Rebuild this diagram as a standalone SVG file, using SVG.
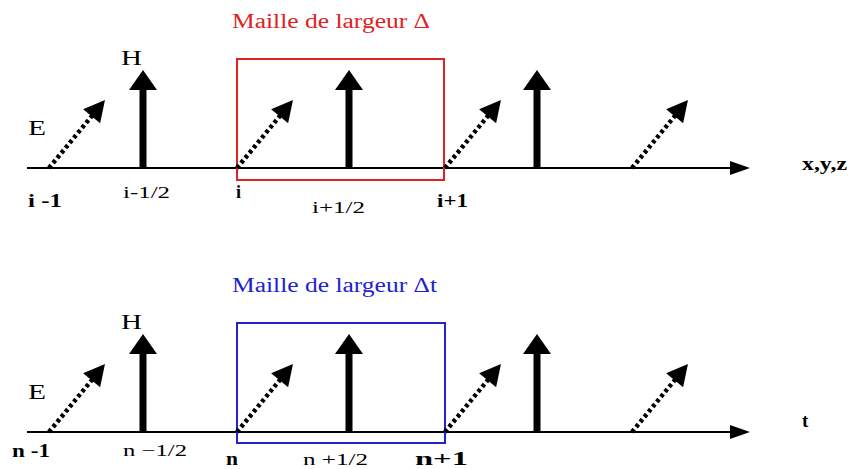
<svg xmlns="http://www.w3.org/2000/svg" xmlns:xlink="http://www.w3.org/1999/xlink" width="855" height="469" viewBox="0 0 855 469">
<style>
text{font-family:'Liberation Serif','Times New Roman',Times,serif;fill:#000;font-size:17px}
.b{font-weight:bold;font-size:18px}
.t{font-size:20px}
.axis{stroke:#000;stroke-width:2;fill:none}
.cell{fill:none;stroke-width:2}
</style>
<defs>
<g id="harrow">
<rect x="-3.5" y="18" width="7" height="80" fill="#000"/>
<polygon points="0,0 -14,20 14,20" fill="#000"/>
</g>
<g id="earrow">
<line x1="0" y1="0" x2="69" y2="0" stroke="#000" stroke-width="4.5" stroke-dasharray="3.5 3"/>
<polygon points="88,0 67,-11 67,11" fill="#000"/>
</g>
</defs>
<rect width="855" height="469" fill="#fff"/>
<g id="connectors">
<line class="axis" x1="27" y1="168" x2="735" y2="168"/>
<polygon points="750,168 730,161 730,175" fill="#000"/>
<line class="axis" x1="27" y1="432" x2="735" y2="432"/>
<polygon points="750,432 730,425 730,439" fill="#000"/>
</g>
<g id="top-cell">
<rect class="cell" x="237" y="59" width="207" height="121" stroke="#e02222"/>
<text x="232" y="28" class="t" style="fill:#e02222" textLength="198" lengthAdjust="spacingAndGlyphs">Maille de largeur Δ</text>
</g>
<g id="top-H">
<use xlink:href="#harrow" transform="translate(143,70)"/>
<use xlink:href="#harrow" transform="translate(349,70)"/>
<use xlink:href="#harrow" transform="translate(537,70)"/>
<text x="121" y="65" class="t" textLength="21" lengthAdjust="spacingAndGlyphs">H</text>
</g>
<g id="top-E">
<use xlink:href="#earrow" transform="translate(49,168) rotate(-50.5)"/>
<use xlink:href="#earrow" transform="translate(237,168) rotate(-50.5)"/>
<use xlink:href="#earrow" transform="translate(445,168) rotate(-50.5)"/>
<use xlink:href="#earrow" transform="translate(632,168) rotate(-50.5)"/>
<text x="28" y="135" class="t" textLength="18" lengthAdjust="spacingAndGlyphs">E</text>
</g>
<g id="top-labels">
<text x="28" y="207" class="b" textLength="34" lengthAdjust="spacingAndGlyphs">i -1</text>
<text x="123" y="198" textLength="47" lengthAdjust="spacingAndGlyphs">i-1/2</text>
<text x="236" y="198" class="b">i</text>
<text x="312" y="213" textLength="53" lengthAdjust="spacingAndGlyphs">i+1/2</text>
<text x="437" y="207" class="b" textLength="31" lengthAdjust="spacingAndGlyphs">i+1</text>
<text x="802" y="170" class="b" textLength="45" lengthAdjust="spacingAndGlyphs">x,y,z</text>
</g>
<g id="bottom-cell">
<rect class="cell" x="237" y="323" width="208" height="120" stroke="#2222d0"/>
<text x="232" y="292" class="t" style="fill:#2222d0" textLength="205" lengthAdjust="spacingAndGlyphs">Maille de largeur Δt</text>
</g>
<g id="bottom-H">
<use xlink:href="#harrow" transform="translate(143,334)"/>
<use xlink:href="#harrow" transform="translate(349,334)"/>
<use xlink:href="#harrow" transform="translate(537,334)"/>
<text x="121" y="329" class="t" textLength="21" lengthAdjust="spacingAndGlyphs">H</text>
</g>
<g id="bottom-E">
<use xlink:href="#earrow" transform="translate(49,432) rotate(-50.5)"/>
<use xlink:href="#earrow" transform="translate(237,432) rotate(-50.5)"/>
<use xlink:href="#earrow" transform="translate(445,432) rotate(-50.5)"/>
<use xlink:href="#earrow" transform="translate(632,432) rotate(-50.5)"/>
<text x="28" y="399" class="t" textLength="18" lengthAdjust="spacingAndGlyphs">E</text>
</g>
<g id="bottom-labels">
<text x="12" y="457" class="b" textLength="38" lengthAdjust="spacingAndGlyphs">n -1</text>
<text x="123" y="456" textLength="64" lengthAdjust="spacingAndGlyphs">n −1/2</text>
<text x="226" y="465" class="b" textLength="12" lengthAdjust="spacingAndGlyphs">n</text>
<text x="303" y="465" textLength="65" lengthAdjust="spacingAndGlyphs">n +1/2</text>
<text x="415" y="465" class="b" textLength="53" lengthAdjust="spacingAndGlyphs">n+1</text>
<text x="802" y="427" class="b" style="font-size:19px">t</text>
</g>
</svg>
